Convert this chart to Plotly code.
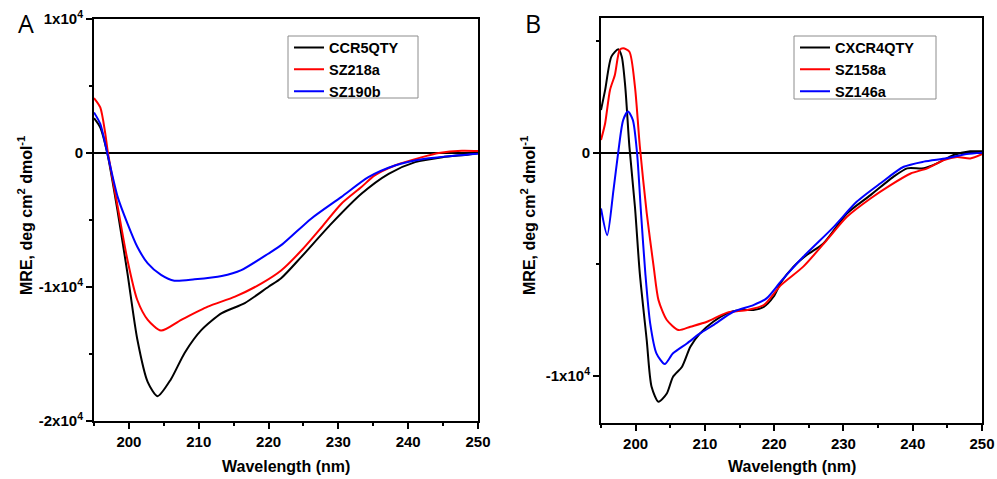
import plotly.graph_objects as go

# ---------------- Panel A data ----------------
a_ccr5_x = [195, 195.9, 196.9, 198.4, 199.8, 201.2, 202.7, 204.1, 206.0, 208.0, 210.4, 213.3, 216.6, 220.0,
            221.8, 224.7, 229.0, 233.3, 237.2, 241.0, 244.9, 248.7, 250]
a_ccr5_y = [2600, 1900, 0, -4400, -9000, -13900, -17100, -18150, -16900, -14900, -13200, -11950, -11200, -9980,
            -9350, -7750, -5270, -3040, -1550, -680, -310, -110, 0]

a_sz218_x = [195, 195.9, 196.6, 197.0, 198.4, 199.8, 201.2, 202.7, 204.6, 207.5, 211.3, 215.2, 219.0, 221.8,
             224.7, 227.6, 230.4, 233.3, 235.2, 238.1, 242.0, 244.4, 247.7, 250]
a_sz218_y = [4100, 3400, 1500, 0, -4030, -8000, -10970, -12450, -13250, -12450, -11460, -10720, -9730, -8770,
             -7280, -5540, -3800, -2540, -1670, -930, -310, 0, 170, 150]

a_sz190_x = [195, 195.9, 196.9, 198.4, 199.8, 201.2, 202.7, 204.6, 206.5, 209.4, 213.3, 216.1, 220.0, 222.0,
             226.1, 230.4, 234.3, 238.1, 242.4, 246.8, 250]
a_sz190_y = [3030, 2170, 0, -3290, -5270, -7000, -8240, -9100, -9530, -9430, -9180, -8740, -7500, -6800,
             -4900, -3290, -1800, -930, -430, -190, -50]

# ---------------- Panel B data ----------------
b_cxcr4_x = [195, 195.6, 196.5, 197.5, 198.0, 198.5, 199.1, 199.9, 200.6, 201.6, 202.3, 203.3, 204.5, 205.4,
             206.7, 207.9, 209.3, 211.2, 213.2, 215.1, 217.0, 218.5, 219.9, 221.0, 222.8, 224.7, 227.1, 230.5,
             233.9, 237.2, 239.2, 241.6, 243.5, 245.9, 248.3, 250]
b_cxcr4_y = [1910, 2810, 4300, 4630, 4300, 2960, 270, -2420, -5400, -8390, -10480, -11150, -10780, -10030,
             -9580, -8690, -8090, -7570, -7190, -7040, -7040, -6900, -6450, -5800, -5100, -4580, -4060, -2720,
             -1900, -1080, -700, -700, -480, -100, 60, 60]

b_sz158_x = [195, 195.6, 196.3, 197.0, 197.7, 198.2, 199.1, 199.9, 200.6, 201.6, 202.6, 203.3, 204.5, 206.2,
             207.9, 210.3, 213.2, 216.1, 218.5, 220.9, 224.2, 227.6, 230.5, 233.9, 236.8, 239.7, 242.1, 244.5,
             246.4, 248.3, 250]
b_sz158_y = [570, 1320, 2810, 3480, 4600, 4680, 4520, 2960, 300, -2700, -5100, -6600, -7490, -7940,
             -7790, -7570, -7160, -7040, -6820, -5950, -5100, -3910, -2870, -2050, -1450, -930, -700, -330,
             -190, -260, -70]

b_sz146_x = [195, 195.9, 196.8, 197.5, 198.2, 198.9, 199.6, 200.2, 200.8, 201.4, 202.1, 203.0, 204.2, 205.4,
             207.4, 209.3, 211.2, 214.1, 217.0, 218.9, 221.0, 224.2, 228.6, 231.9, 235.3, 238.7, 241.6, 244.9,
             247.8, 250]
b_sz146_y = [-2500, -3690, -1670, 50, 1460, 1840, 1460, 0, -2800, -5400, -7640, -8980, -9460, -8980,
             -8540, -8090, -7720, -7120, -6820, -6520, -5750, -4660, -3320, -2200, -1380, -630, -400, -250,
             -60, 0]

# tick labels
x_ticks = [200, 210, 220, 230, 240, 250]
a_y_ticks = [10000, 0, -10000, -20000]
a_y_text = ["1x10<sup>4</sup>", "0", "-1x10<sup>4</sup>", "-2x10<sup>4</sup>"]
b_y_ticks = [0, -10000]
b_y_text = ["0", "-1x10<sup>4</sup>"]

FONT = "Liberation Sans, Arial, sans-serif"

fig = go.Figure()

def add(x, y, name, color, xa, ya, legend):
    fig.add_trace(go.Scatter(x=x, y=y, name=name, mode="lines",
                             line=dict(color=color, width=2, shape="spline", smoothing=0.7),
                             xaxis=xa, yaxis=ya, legend=legend))

add(a_ccr5_x, a_ccr5_y, "CCR5QTY", "black", "x", "y", "legend")
add(a_sz218_x, a_sz218_y, "SZ218a", "#ff0000", "x", "y", "legend")
add(a_sz190_x, a_sz190_y, "SZ190b", "#0000ff", "x", "y", "legend")
add(b_cxcr4_x, b_cxcr4_y, "CXCR4QTY", "black", "x2", "y2", "legend2")
add(b_sz158_x, b_sz158_y, "SZ158a", "#ff0000", "x2", "y2", "legend2")
add(b_sz146_x, b_sz146_y, "SZ146a", "#0000ff", "x2", "y2", "legend2")

W, H = 997, 479

def xaxis(domain, anchor):
    return dict(domain=domain, anchor=anchor, range=[195, 250], tickmode="array", tickvals=x_ticks,
                ticktext=[str(v) for v in x_ticks],
                showline=True, linecolor="black", linewidth=2, mirror=True,
                ticks="outside", ticklen=6, tickwidth=1.5, tickcolor="black",
                minor=dict(tickmode="linear", tick0=195, dtick=5, ticks="outside", ticklen=3,
                           tickwidth=1.5, tickcolor="black"),
                showgrid=False, zeroline=False, automargin=False,
                tickfont=dict(family=FONT, size=15, color="black", weight="bold"))

def yaxis(domain, anchor, rng, tv, tt):
    return dict(domain=domain, anchor=anchor, range=rng, tickmode="array", tickvals=tv, ticktext=tt,
                showline=True, linecolor="black", linewidth=2, mirror=True,
                ticks="outside", ticklen=6, tickwidth=1.5, tickcolor="black",
                minor=dict(tickmode="linear", tick0=5000, dtick=10000, ticks="outside", ticklen=3,
                           tickwidth=1.5, tickcolor="black"),
                showgrid=False, zeroline=True, zerolinecolor="black", zerolinewidth=2,
                automargin=False, tickfont=dict(family=FONT, size=15, color="black", weight="bold"))

legend_style = dict(font=dict(family=FONT, size=14.5, color="black", weight="bold"),
                    borderwidth=0, bgcolor="rgba(0,0,0,0)",
                    xanchor="left", yanchor="top", tracegroupgap=0, itemwidth=30)

fig.update_layout(
    width=W, height=H, margin=dict(l=0, r=0, t=0, b=0),
    paper_bgcolor="white", plot_bgcolor="white",
    xaxis=xaxis([94 / W, 478 / W], "y"),
    yaxis=yaxis([(H - 421) / H, (H - 19) / H], "x", [-20000, 10000], a_y_ticks, a_y_text),
    xaxis2=xaxis([601 / W, 982 / W], "y2"),
    yaxis2=yaxis([(H - 423) / H, (H - 18) / H], "x2", [-12100, 6030], b_y_ticks, b_y_text),
    legend=dict(x=289 / W, y=1 - 31.5 / H, **legend_style),
    legend2=dict(x=795 / W, y=1 - 31.5 / H, **legend_style),
    showlegend=True,
)

# legend frames
for x0, x1, y0, y1 in ((288, 418, 36, 98), (794, 936, 36, 99)):
    fig.add_shape(type="rect", xref="paper", yref="paper", x0=x0 / W, x1=x1 / W, y0=1 - y1 / H, y1=1 - y0 / H,
                  line=dict(color="#8c8c8c", width=1), fillcolor="rgba(0,0,0,0)", layer="above")

title_font = dict(family=FONT, size=16, color="black", weight="bold")
ann = [
    dict(text="Wavelength (nm)", x=(94 + 478) / 2 / W, y=1 - 466 / H),
    dict(text="Wavelength (nm)", x=(601 + 982) / 2 / W, y=1 - 466 / H),
    dict(text="MRE, deg cm<sup>2</sup> dmol<sup>-1</sup>", x=25 / W, y=1 - 216 / H, textangle=-90),
    dict(text="MRE, deg cm<sup>2</sup> dmol<sup>-1</sup>", x=528 / W, y=1 - 216 / H, textangle=-90),
]
for a in ann:
    fig.add_annotation(xref="paper", yref="paper", showarrow=False, font=title_font,
                       xanchor="center", yanchor="middle", **a)

for letter, px in (("A", 26), ("B", 533)):
    fig.add_annotation(text=letter, xref="paper", yref="paper", x=px / W, y=1 - 23 / H, showarrow=False,
                       font=dict(family="Open Sans, Liberation Sans, sans-serif", size=25, color="black"),
                       xanchor="center", yanchor="middle")

fig.write_html("out.html", config={"displayModeBar": False},
               post_script="document.body.style.margin='0px';")
